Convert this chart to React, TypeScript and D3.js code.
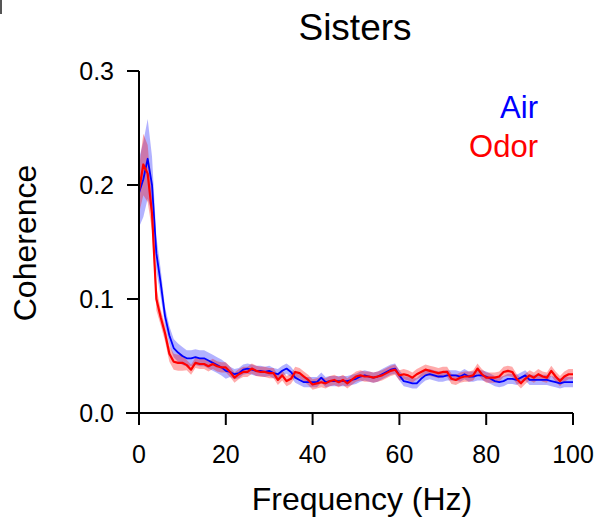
import React from "react";
import * as d3 from "d3";

const freqs: number[] = Array.from({ length: 101 }, (_, i) => i);

const airMean: number[] = [
  0.193, 0.205, 0.223, 0.2, 0.14, 0.114, 0.085, 0.068, 0.057, 0.053,
  0.05, 0.048, 0.048, 0.049, 0.048, 0.048, 0.046, 0.044, 0.042, 0.04,
  0.037, 0.036, 0.034, 0.035, 0.038, 0.039, 0.038, 0.037, 0.037, 0.036,
  0.037, 0.035, 0.034, 0.037, 0.039, 0.036, 0.031, 0.029, 0.027, 0.027,
  0.027, 0.027, 0.031, 0.027, 0.028, 0.028, 0.028, 0.028, 0.028, 0.029,
  0.03, 0.032, 0.033, 0.032, 0.031, 0.032, 0.034, 0.036, 0.038, 0.039,
  0.033, 0.028, 0.027, 0.026, 0.026, 0.03, 0.033, 0.034, 0.033, 0.032,
  0.032, 0.033, 0.033, 0.033, 0.032, 0.034, 0.032, 0.032, 0.033, 0.033,
  0.032, 0.03, 0.028, 0.027, 0.028, 0.03, 0.03, 0.029, 0.031, 0.033,
  0.029, 0.029, 0.029, 0.029, 0.029, 0.028, 0.027, 0.026, 0.027, 0.027,
  0.027,
];

const odorMean: number[] = [
  0.195, 0.218, 0.21, 0.175, 0.1, 0.084, 0.07, 0.052, 0.045, 0.044,
  0.044, 0.042, 0.038, 0.044, 0.043, 0.043, 0.041, 0.043, 0.041, 0.04,
  0.04, 0.036, 0.031, 0.034, 0.036, 0.036, 0.039, 0.037, 0.036, 0.036,
  0.035, 0.035, 0.029, 0.033, 0.028, 0.03, 0.036, 0.035, 0.032, 0.029,
  0.025, 0.026, 0.027, 0.026, 0.028, 0.029, 0.027, 0.029, 0.026, 0.029,
  0.032, 0.033, 0.032, 0.032, 0.031, 0.032, 0.033, 0.035, 0.037, 0.038,
  0.033, 0.034, 0.033, 0.031, 0.034, 0.036, 0.038, 0.037, 0.036, 0.035,
  0.036, 0.036, 0.03, 0.029, 0.031, 0.032, 0.032, 0.033, 0.039, 0.034,
  0.031, 0.031, 0.031, 0.032, 0.036, 0.037, 0.036, 0.03, 0.026, 0.03,
  0.033, 0.031, 0.034, 0.032, 0.031, 0.037, 0.032, 0.028, 0.032, 0.034,
  0.034,
];

const airSem: number[] = freqs.map((f) =>
  f === 0 ? 0.03 : f === 1 ? 0.033 : f === 2 ? 0.035 : f === 3 ? 0.025 : f === 4 ? 0.015 : f === 5 ? 0.012 : f <= 10 ? 0.008 : f <= 20 ? 0.007 : 0.0045
);
const odorSem: number[] = freqs.map((f) =>
  f === 0 ? 0.02 : f === 1 ? 0.027 : f === 2 ? 0.025 : f === 3 ? 0.015 : f === 4 ? 0.01 : f <= 10 ? 0.007 : 0.0045
);

const xTicks: number[] = [0, 20, 40, 60, 80, 100];
const yTicks: number[] = [0.0, 0.1, 0.2, 0.3];

const FONT = "'Liberation Sans', Arial, Helvetica, sans-serif";

export default function App() {
  const x = d3.scaleLinear().domain([0, 100]).range([139, 573]);
  const y = d3.scaleLinear().domain([0, 0.3]).range([413, 71]);

  const band = (mean: number[], sem: number[]) =>
    d3
      .area<number>()
      .x((_, i) => x(freqs[i]))
      .y0((d, i) => y(d - sem[i]))
      .y1((d, i) => y(d + sem[i]))(mean) || "";
  const line = (mean: number[]) =>
    d3
      .line<number>()
      .x((_, i) => x(freqs[i]))
      .y((d) => y(d))(mean) || "";

  return (
    <svg width={599} height={525} style={{ position: "absolute", left: 0, top: 0 }} fontFamily={FONT}>
      <rect x={0} y={0} width={599} height={525} fill="#fff" />
      <rect x={0} y={0} width={2} height={14} fill="#555" />
      <text x={355} y={40} fontSize={37} textAnchor="middle">Sisters</text>

      <path d={band(airMean, airSem)} fill="rgba(0,0,255,0.3)" stroke="none" />
      <path d={band(odorMean, odorSem)} fill="rgba(255,0,0,0.33)" stroke="none" />
      <path d={line(airMean)} fill="none" stroke="#0000ff" strokeWidth={1.8} strokeLinejoin="round" />
      <path d={line(odorMean)} fill="none" stroke="#ff0000" strokeWidth={2.2} strokeLinejoin="round" />

      <line x1={139} y1={y(0.3)} x2={139} y2={425} stroke="#000" strokeWidth={2} />
      <line x1={126} y1={413} x2={x(100)} y2={413} stroke="#000" strokeWidth={2} />
      {yTicks.map((t) => (
        <g key={t}>
          <line x1={127} x2={139} y1={y(t)} y2={y(t)} stroke="#000" strokeWidth={2} />
          <text x={114} y={y(t) + 9} fontSize={25} textAnchor="end">{t.toFixed(1)}</text>
        </g>
      ))}
      {xTicks.map((t) => (
        <g key={t}>
          <line x1={x(t)} x2={x(t)} y1={413} y2={425} stroke="#000" strokeWidth={2} />
          <text x={x(t)} y={463} fontSize={25} textAnchor="middle">{t}</text>
        </g>
      ))}
      <text x={362} y={510} fontSize={32} textAnchor="middle">Frequency (Hz)</text>
      <text transform="translate(36,243) rotate(-90)" fontSize={32} textAnchor="middle">Coherence</text>

      <text x={538} y={118} fontSize={31} textAnchor="end" fill="#0000ff">Air</text>
      <text x={538} y={157} fontSize={31} textAnchor="end" fill="#ff0000">Odor</text>
    </svg>
  );
}
